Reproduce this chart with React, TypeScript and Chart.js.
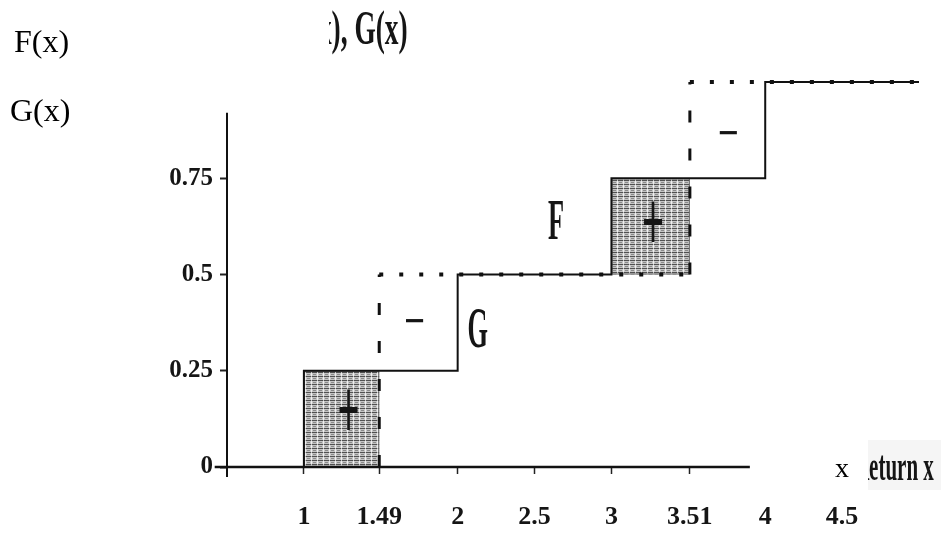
import React, { useEffect, useRef } from "react";
import { Chart, registerables } from "chart.js";

Chart.register(...registerables);

// ---- data ----
const xTickValues = [1, 1.49, 2, 2.5, 3, 3.51, 4, 4.5];
const xTickLabels = ["1", "1.49", "2", "2.5", "3", "3.51", "4", "4.5"];
const yTickValues = [0, 0.25, 0.5, 0.75];
const yTickLabels = ["0", "0.25", "0.5", "0.75"];

// F: solid step function (jump points and levels)
const fJumps = [1, 2, 3, 4];
const fLevels = [0, 0.25, 0.5, 0.75, 1];
// G: dotted step function
const gJumps = [1.49, 3.51];
const gLevels = [0, 0.5, 1];

const xMin = 0.5;
const xMax = 5;
const yMin = 0;
const yMax = 1;

// shaded regions between F and G: [x0, x1, y0, y1]
const shadedRegions = [
  [1, 1.49, 0, 0.25],
  [3, 3.51, 0.5, 0.75],
];
// sign marks inside regions
const regionSigns = [
  { text: "+", x: 1.29, y: 0.13 },
  { text: "\u2212", x: 1.72, y: 0.37 },
  { text: "+", x: 3.27, y: 0.62 },
  { text: "\u2212", x: 3.76, y: 0.86 },
];
const curveLabels = [
  { text: "F", x: 2.64, y: 0.63 },
  { text: "G", x: 2.13, y: 0.35 },
];
// axis line extents
const xAxisRange = [0.42, 3.9];
const yAxisRange = [-0.026, 0.92];

// ---- build datasets ----
function buildF() {
  const pts: any[] = [{ x: xMin, y: fLevels[0] }];
  fJumps.forEach((j, i) => pts.push({ x: j, y: fLevels[i + 1] }));
  pts.push({ x: xMax, y: fLevels[fLevels.length - 1] });
  return pts;
}
function buildGVertical() {
  const pts: any[] = [];
  gJumps.forEach((j, i) => {
    if (i > 0) pts.push({ x: (gJumps[i - 1] + j) / 2, y: null });
    pts.push({ x: j, y: gLevels[i] });
    pts.push({ x: j, y: gLevels[i + 1] });
  });
  return pts;
}
function buildGHorizontal() {
  const pts: any[] = [];
  gJumps.forEach((j, i) => {
    const end = i + 1 < gJumps.length ? gJumps[i + 1] : xMax;
    if (i > 0) pts.push({ x: j, y: null });
    pts.push({ x: j, y: gLevels[i + 1] });
    pts.push({ x: end, y: gLevels[i + 1] });
  });
  return pts;
}

function makePattern(): CanvasPattern | string {
  const c = document.createElement("canvas");
  c.width = 6;
  c.height = 4;
  const g = c.getContext("2d");
  if (!g) return "#999";
  g.fillStyle = "#c4c4c4";
  g.fillRect(0, 0, 6, 4);
  g.fillStyle = "#505050";
  g.fillRect(0, 0, 5, 1);
  g.fillStyle = "#8a8a8a";
  g.fillRect(1, 2, 3, 1);
  g.fillStyle = "#f0f0f0";
  g.fillRect(5, 1, 1, 3);
  return g.createPattern(c, "repeat") || "#999";
}

const SERIF = "'Liberation Serif', 'Times New Roman', serif";

export default function App() {
  const ref = useRef<HTMLCanvasElement | null>(null);

  useEffect(() => {
    if (!ref.current) return;
    const pattern = makePattern();

    const decorations = {
      id: "decorations",
      beforeDatasetsDraw(chart: any) {
        const { ctx, scales } = chart;
        const xs = scales.x;
        const ys = scales.y;
        ctx.save();
        shadedRegions.forEach(([x0, x1, y0, y1]) => {
          const px0 = xs.getPixelForValue(x0);
          const px1 = xs.getPixelForValue(x1);
          const py0 = ys.getPixelForValue(y0);
          const py1 = ys.getPixelForValue(y1);
          ctx.fillStyle = pattern;
          ctx.fillRect(px0, py1, px1 - px0, py0 - py1);
          ctx.strokeStyle = "#666";
          ctx.lineWidth = 1;
          ctx.strokeRect(px0 + 0.5, py1 + 0.5, px1 - px0 - 1, py0 - py1 - 1);
        });
        // axis lines
        ctx.strokeStyle = "#111";
        ctx.lineWidth = 2.5;
        ctx.beginPath();
        const y0 = ys.getPixelForValue(0);
        ctx.moveTo(xs.getPixelForValue(xAxisRange[0]), y0);
        ctx.lineTo(xs.getPixelForValue(xAxisRange[1]), y0);
        ctx.stroke();
        ctx.lineWidth = 2;
        ctx.beginPath();
        const x0 = xs.getPixelForValue(xMin);
        ctx.moveTo(x0, ys.getPixelForValue(yAxisRange[0]));
        ctx.lineTo(x0, ys.getPixelForValue(yAxisRange[1]));
        ctx.stroke();
        ctx.restore();
      },
      afterDatasetsDraw(chart: any) {
        const { ctx, scales } = chart;
        const xs = scales.x;
        const ys = scales.y;
        const drawText = (t: string, x: number, y: number, size: number, sx: number) => {
          ctx.save();
          ctx.translate(xs.getPixelForValue(x), ys.getPixelForValue(y));
          ctx.scale(sx, 1);
          ctx.font = `bold ${size}px ${SERIF}`;
          ctx.fillStyle = "#151515";
          ctx.textAlign = "center";
          ctx.textBaseline = "middle";
          ctx.fillText(t, 0, 0);
          ctx.restore();
        };
        regionSigns.forEach((s) => {
          if (s.text === "+") drawText(s.text, s.x, s.y, 86, 0.45);
          else drawText(s.text, s.x, s.y, 46, 0.8);
        });
        curveLabels.forEach((l) => drawText(l.text, l.x, l.y, 56, 0.47));
      },
    };

    const chart = new Chart(ref.current, {
      type: "line",
      data: {
        datasets: [
          {
            label: "F",
            data: buildF(),
            stepped: true,
            borderColor: "#111",
            borderWidth: 2,
            pointRadius: 0,
            fill: false,
            clip: false,
          } as any,
          {
            label: "G",
            data: buildGHorizontal(),
            borderColor: "#111",
            borderWidth: 4,
            borderDash: [4, 16],
            borderCapStyle: "butt",
            pointRadius: 0,
            fill: false,
            spanGaps: false,
            clip: false,
          } as any,
          {
            label: "G jumps",
            data: buildGVertical(),
            borderColor: "#111",
            borderWidth: 3,
            borderDash: [12, 26],
            borderCapStyle: "butt",
            pointRadius: 0,
            fill: false,
            spanGaps: false,
            clip: false,
          } as any,
        ],
      },
      options: {
        animation: false,
        responsive: true,
        maintainAspectRatio: false,
        layout: { padding: { top: 82, right: 22, bottom: 0, left: 0 } },
        plugins: {
          legend: { display: false },
          tooltip: { enabled: false },
          title: { display: false },
        },
        scales: {
          x: {
            type: "linear",
            min: xMin,
            max: xMax,
            afterBuildTicks: (scale: any) => {
              scale.ticks = xTickValues.map((v) => ({ value: v }));
            },
            afterFit: (scale: any) => {
              scale.height = 75;
            },
            ticks: {
              autoSkip: false,
              maxRotation: 0,
              padding: 28,
              color: "#151515",
              font: { family: SERIF, weight: "bold", size: 26 },
              callback: (v: any) => {
                const i = xTickValues.indexOf(Number(v));
                return i >= 0 ? xTickLabels[i] : "";
              },
            },
            grid: {
              drawOnChartArea: false,
              drawTicks: true,
              tickLength: 7,
              tickWidth: 1.5,
              tickColor: (ctx: any) =>
                ctx.tick && ctx.tick.value < xAxisRange[1] ? "#222" : "rgba(0,0,0,0)",
            },
            border: { display: false },
          },
          y: {
            type: "linear",
            min: yMin,
            max: yMax,
            afterBuildTicks: (scale: any) => {
              scale.ticks = yTickValues.map((v) => ({ value: v }));
            },
            afterFit: (scale: any) => {
              scale.width = 227;
            },
            ticks: {
              padding: 7,
              color: "#151515",
              font: { family: SERIF, weight: "bold", size: 25 },
              callback: (v: any) => {
                const i = yTickValues.indexOf(Number(v));
                return i >= 0 ? yTickLabels[i] : "";
              },
            },
            grid: {
              drawOnChartArea: false,
              drawTicks: true,
              tickLength: 7,
              tickWidth: 2,
              tickColor: "#222",
            },
            border: { display: false },
          },
        },
      },
      plugins: [decorations],
    } as any);

    return () => chart.destroy();
  }, []);

  return (
    <div
      style={{
        position: "absolute",
        left: 0,
        top: 0,
        width: 941,
        height: 542,
        background: "#fff",
        overflow: "hidden",
      }}
    >
      <div style={{ position: "absolute", left: 0, top: 0, width: 941, height: 542 }}>
        <canvas ref={ref} />
      </div>
      <div
        style={{
          position: "absolute",
          left: 14,
          top: 25,
          fontFamily: SERIF,
          fontSize: 32,
          lineHeight: "32px",
          color: "#000",
          whiteSpace: "nowrap",
        }}
      >
        F(x)
      </div>
      <div
        style={{
          position: "absolute",
          left: 10,
          top: 94,
          fontFamily: SERIF,
          fontSize: 32,
          lineHeight: "32px",
          color: "#000",
          whiteSpace: "nowrap",
        }}
      >
        G(x)
      </div>
      <div
        style={{
          position: "absolute",
          left: 329,
          top: 0,
          width: 82,
          height: 62,
          overflow: "hidden",
        }}
      >
        <span
          style={{
            position: "absolute",
            right: 3,
            top: 4,
            fontFamily: SERIF,
            fontWeight: "bold",
            fontSize: 48,
            lineHeight: "48px",
            color: "#151515",
            whiteSpace: "nowrap",
            transform: "scaleX(0.57)",
            transformOrigin: "right center",
          }}
        >
          F(x), G(x)
        </span>
      </div>
      <div
        style={{
          position: "absolute",
          left: 835,
          top: 454,
          fontFamily: SERIF,
          fontSize: 28,
          lineHeight: "28px",
          color: "#000",
          whiteSpace: "nowrap",
        }}
      >
        x
      </div>
      <div
        style={{
          position: "absolute",
          left: 868,
          top: 440,
          width: 73,
          height: 50,
          overflow: "hidden",
          background: "#f5f5f5",
        }}
      >
        <span
          style={{
            position: "absolute",
            right: 7,
            top: 5,
            fontFamily: SERIF,
            fontWeight: "bold",
            fontSize: 42,
            lineHeight: "42px",
            color: "#151515",
            whiteSpace: "nowrap",
            transform: "scaleX(0.5)",
            transformOrigin: "right center",
          }}
        >
          Return x
        </span>
      </div>
    </div>
  );
}
